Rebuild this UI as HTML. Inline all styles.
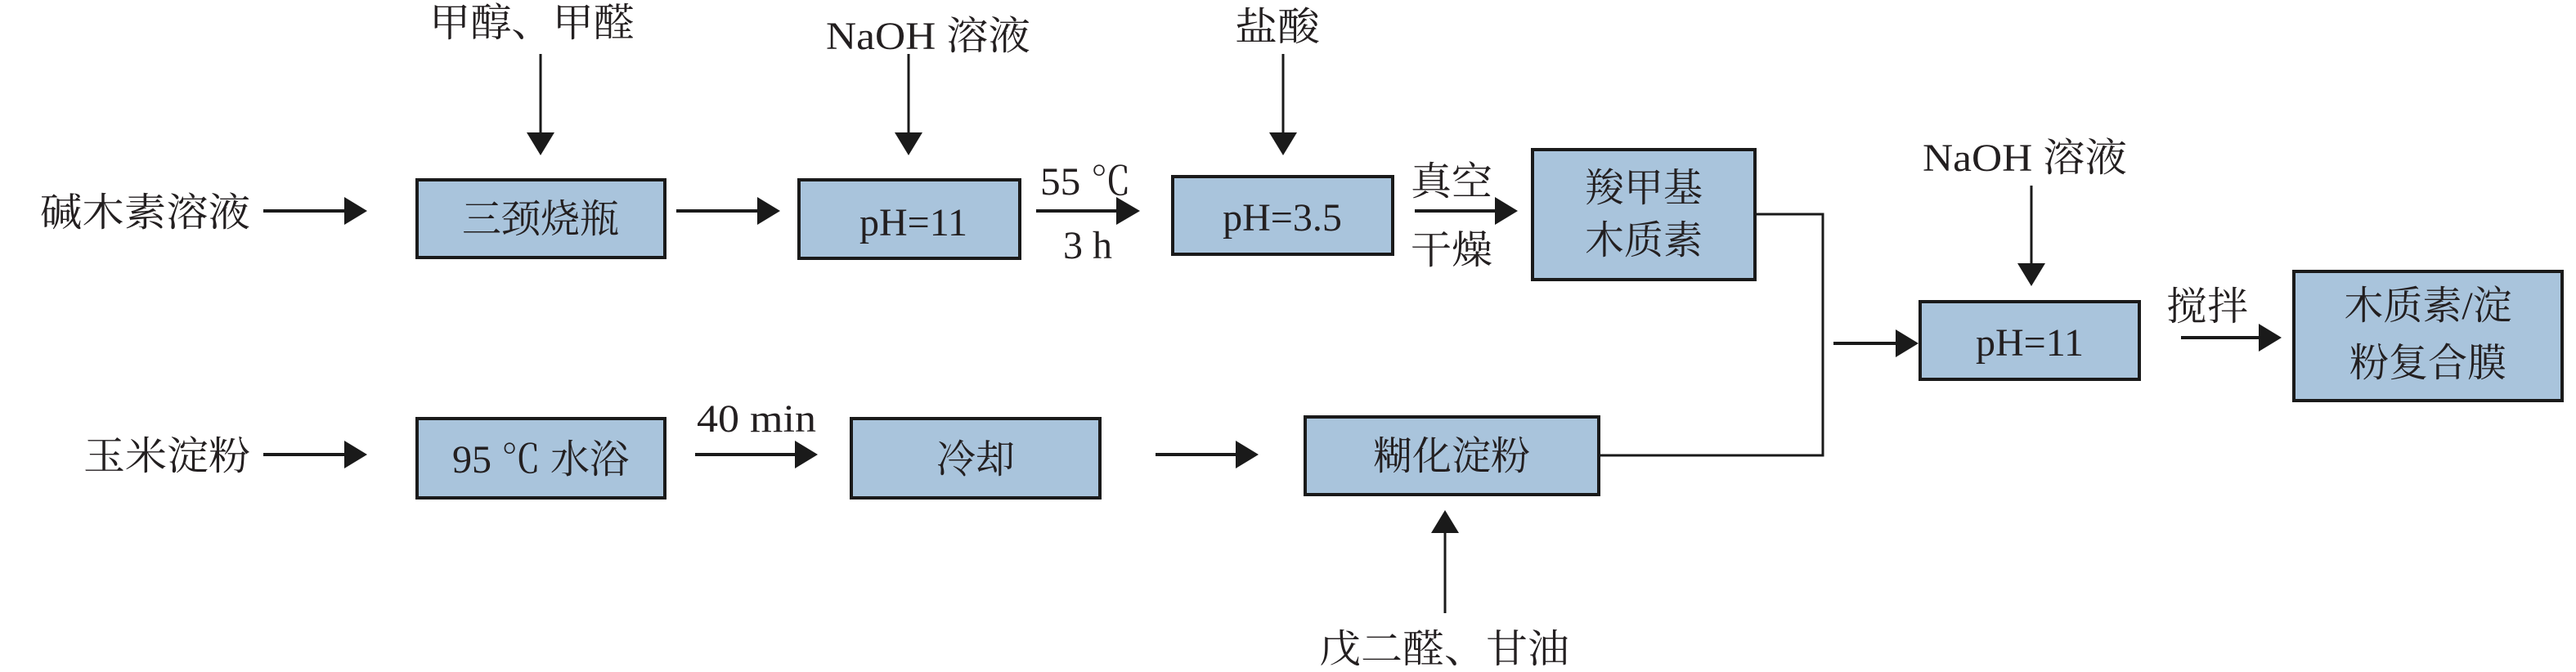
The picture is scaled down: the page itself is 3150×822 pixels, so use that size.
<!DOCTYPE html>
<html><head><meta charset="utf-8"><style>
html,body{margin:0;padding:0;background:#fff;}
svg{display:block;}
text{font-family:"Liberation Serif","Noto Serif CJK SC",serif;fill:#231f20;font-size:48px;}
.b{fill:#a9c4dc;stroke:#1a1a1a;stroke-width:4;}
.l{stroke:#1a1a1a;stroke-width:4;fill:none;}
.c{stroke:#1a1a1a;stroke-width:3;fill:none;}
.h{fill:#1a1a1a;}
</style></head><body>
<svg width="3150" height="822" viewBox="0 0 3150 822" xmlns="http://www.w3.org/2000/svg">
<!-- boxes -->
<rect class="b" x="510" y="220" width="303" height="95"/>
<rect class="b" x="977" y="220" width="270" height="96"/>
<rect class="b" x="1434" y="216" width="269" height="95"/>
<rect class="b" x="1874" y="183" width="272" height="159"/>
<rect class="b" x="2348" y="369" width="268" height="95"/>
<rect class="b" x="2805" y="332" width="328" height="158"/>
<rect class="b" x="510" y="512" width="303" height="97"/>
<rect class="b" x="1041" y="512" width="304" height="97"/>
<rect class="b" x="1596" y="510" width="359" height="95"/>

<!-- horizontal arrows row1 y=258 -->
<line class="l" x1="322" y1="258" x2="425" y2="258"/><polygon class="h" points="421,241 449,258 421,275"/>
<line class="l" x1="827" y1="258" x2="930" y2="258"/><polygon class="h" points="926,241 954,258 926,275"/>
<line class="l" x1="1267" y1="258" x2="1370" y2="258"/><polygon class="h" points="1365,241 1394,258 1365,275"/>
<line class="l" x1="1730" y1="258" x2="1832" y2="258"/><polygon class="h" points="1828,241 1856,258 1828,275"/>
<!-- row2 y=556 -->
<line class="l" x1="322" y1="556" x2="425" y2="556"/><polygon class="h" points="421,539 449,556 421,573"/>
<line class="l" x1="850" y1="556" x2="976" y2="556"/><polygon class="h" points="972,539 1000,556 972,573"/>
<line class="l" x1="1413" y1="556" x2="1515" y2="556"/><polygon class="h" points="1511,539 1539,556 1511,573"/>
<!-- merge connector -->
<polyline class="c" points="2146,262 2229,262 2229,557 1955,557"/>
<line class="l" x1="2242" y1="420" x2="2322" y2="420"/><polygon class="h" points="2318,403 2346,420 2318,437"/>
<line class="l" x1="2667" y1="413" x2="2766" y2="413"/><polygon class="h" points="2762,396 2790,413 2762,430"/>
<!-- vertical down arrows -->
<line class="c" x1="661" y1="66" x2="661" y2="168"/><polygon class="h" points="644,162 678,162 661,190"/>
<line class="c" x1="1111" y1="66" x2="1111" y2="168"/><polygon class="h" points="1094,162 1128,162 1111,190"/>
<line class="c" x1="1569" y1="66" x2="1569" y2="168"/><polygon class="h" points="1552,162 1586,162 1569,190"/>
<line class="c" x1="2484" y1="227" x2="2484" y2="328"/><polygon class="h" points="2467,322 2501,322 2484,350"/>
<!-- up arrow -->
<line class="c" x1="1767" y1="750" x2="1767" y2="646"/><polygon class="h" points="1750,652 1784,652 1767,624"/>

<!-- labels -->
<text x="49" y="276" textLength="257" lengthAdjust="spacingAndGlyphs">碱木素溶液</text>
<text x="102" y="574" textLength="204" lengthAdjust="spacingAndGlyphs">玉米淀粉</text>
<text x="525" y="44" textLength="251" lengthAdjust="spacingAndGlyphs">甲醇、甲醛</text>
<text x="1010" y="60" textLength="250" lengthAdjust="spacingAndGlyphs">NaOH 溶液</text>
<text x="1510" y="49" textLength="104" lengthAdjust="spacingAndGlyphs">盐酸</text>
<text x="2351" y="209" textLength="250" lengthAdjust="spacingAndGlyphs">NaOH 溶液</text>
<text x="1272" y="238" textLength="111" lengthAdjust="spacingAndGlyphs">55 ℃</text>
<text x="1300" y="316">3 h</text>
<text x="1725" y="238" textLength="100" lengthAdjust="spacingAndGlyphs">真空</text>
<text x="1725" y="322" textLength="100" lengthAdjust="spacingAndGlyphs">干燥</text>
<text x="852" y="528" textLength="146" lengthAdjust="spacingAndGlyphs">40 min</text>
<text x="2649" y="391" textLength="100" lengthAdjust="spacingAndGlyphs">搅拌</text>
<text x="1613" y="810" textLength="306" lengthAdjust="spacingAndGlyphs">戊二醛、甘油</text>

<!-- box texts -->
<text x="661" y="284" text-anchor="middle">三颈烧瓶</text>
<text x="1117" y="288" text-anchor="middle">pH=11</text>
<text x="1568" y="282" text-anchor="middle">pH=3.5</text>
<text x="2010" y="246" text-anchor="middle">羧甲基</text>
<text x="2010" y="310" text-anchor="middle">木质素</text>
<text x="2482" y="435" text-anchor="middle">pH=11</text>
<text x="2969" y="390" text-anchor="middle">木质素/淀</text>
<text x="2969" y="460" text-anchor="middle">粉复合膜</text>
<text x="661" y="578" text-anchor="middle">95 ℃ 水浴</text>
<text x="1193" y="578" text-anchor="middle">冷却</text>
<text x="1775" y="574" text-anchor="middle">糊化淀粉</text>
</svg>
</body></html>
